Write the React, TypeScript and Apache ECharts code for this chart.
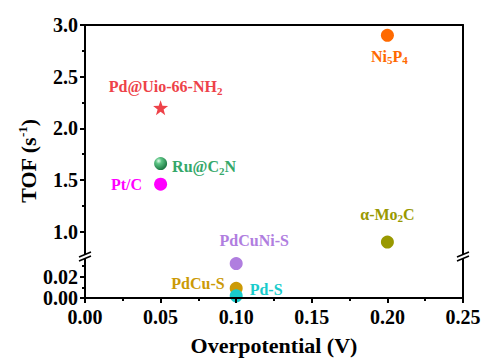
import React, { useEffect, useRef } from "react";
import * as echarts from "echarts";

// ---- data ----
const catalysts = ["Ni5P4", "Pd@Uio-66-NH2", "Ru@C2N", "Pt/C", "α-Mo2C", "PdCuNi-S", "PdCu-S", "Pd-S"];
const overpotential = [0.2, 0.05, 0.05, 0.05, 0.2, 0.1, 0.1, 0.1];
const tof = [2.9, 2.2, 1.66, 1.46, 0.9, 0.032, 0.009, 0.002];
const upperTicks = [1.0, 1.5, 2.0, 2.5, 3.0];
const upperMinor = [1.25, 1.75, 2.25, 2.75];
const lowerTicks = [0, 0.02];
const lowerMinor = [0.01, 0.03];
const breakValue = 0.5; // points at/above go to the upper segment

const FONT = '"Liberation Serif", "Times New Roman", serif';

// five-pointed star marker path
function starPath() {
  const pts: string[] = [];
  for (let k = 0; k < 10; k++) {
    const r = k % 2 === 0 ? 10 : 4;
    const a = -Math.PI / 2 + (k * Math.PI) / 5;
    pts.push(`${(Math.cos(a) * r).toFixed(3)},${(Math.sin(a) * r).toFixed(3)}`);
  }
  return "path://M" + pts.join(" L") + " Z";
}

const sub = (size: number, color: string) => ({
  fontSize: size, fontWeight: "bold", fontFamily: FONT, color, verticalAlign: "bottom", lineHeight: 12, padding: [7, 0, 0, 0],
});
const main = (size: number, color: string) => ({
  fontSize: size, fontWeight: "bold", fontFamily: FONT, color, lineHeight: 19,
});

const styles: any[] = [
  { color: "#FF6A00", symbol: "circle", size: 13, label: { position: "bottom", distance: 5, offset: [2, 0], formatter: "{a|Ni}{s|5}{a|P}{s|4}" } },
  { color: "#EE4249", symbol: starPath(), size: 15, label: { position: "top", distance: 4, offset: [5, 0], formatter: "{a|Pd@Uio-66-NH}{s|2}" } },
  { color: "#34A86A", gradient: true, symbol: "circle", size: 13, label: { position: "right", distance: 5, offset: [0, 3], formatter: "{a|Ru@C}{s|2}{a|N}" } },
  { color: "#FF00FF", symbol: "circle", size: 13, label: { position: "left", distance: 12, formatter: "{a|Pt/C}" } },
  { color: "#999900", symbol: "circle", size: 13, label: { position: "top", distance: 12, formatter: "{a|α-Mo}{s|2}{a|C}" } },
  { color: "#B07EDF", symbol: "circle", size: 13, label: { position: "top", distance: 7, offset: [18, 0], formatter: "{a|PdCuNi-S}" } },
  { color: "#CC9A06", symbol: "circle", size: 13, label: { position: "left", distance: 5, offset: [0, -5], formatter: "{a|PdCu-S}" } },
  { color: "#19CCCC", symbol: "circle", size: 13, label: { position: "right", distance: 7, offset: [0, -6], formatter: "{a|Pd-S}" } },
];

function makeItem(i: number) {
  const s = styles[i];
  const color = s.gradient
    ? new echarts.graphic.RadialGradient(0.35, 0.3, 0.75, [
        { offset: 0, color: "#e6fbec" },
        { offset: 0.3, color: "#5cc484" },
        { offset: 1, color: "#17703d" },
      ])
    : s.color;
  return {
    name: catalysts[i],
    value: [overpotential[i], tof[i]],
    symbol: s.symbol,
    symbolSize: s.size,
    itemStyle: { color, opacity: 1 },
    label: {
      show: true,
      position: s.label.position,
      distance: s.label.distance,
      offset: s.label.offset || [0, 0],
      formatter: s.label.formatter,
      rich: { a: main(16, s.color), s: sub(11, s.color) },
    },
  };
}

const AX = "#000";
const LW = 2;
const labelFont = { fontFamily: FONT, fontWeight: "bold", fontSize: 20, color: "#000" };

function breakMark(x: number, y: number) {
  return [
    {
      type: "polygon", z: 100,
      shape: { points: [[x - 6, y + 1], [x + 6, y - 4], [x + 6, y], [x - 6, y + 5]] },
      style: { fill: "#fff" },
    },
    { type: "line", z: 101, shape: { x1: x - 6, y1: y + 1, x2: x + 6, y2: y - 4 }, style: { stroke: "#000", lineWidth: 1.5 } },
    { type: "line", z: 101, shape: { x1: x - 6, y1: y + 5, x2: x + 6, y2: y }, style: { stroke: "#000", lineWidth: 1.5 } },
  ];
}

export default function App() {
  const ref = useRef<HTMLDivElement>(null);
  useEffect(() => {
    if (!ref.current) return;
    const chart = echarts.init(ref.current, null, { renderer: "svg" });
    const idx = catalysts.map((_, i) => i);
    const upper = idx.filter((i) => tof[i] >= breakValue).map(makeItem);
    const lower = idx.filter((i) => tof[i] < breakValue).map(makeItem);

    const gridLeft = 85, gridRight = 21;
    const option: any = {
      animation: false,
      backgroundColor: "#fff",
      grid: [
        { left: gridLeft, right: gridRight, top: 25, height: 230 },
        { left: gridLeft, right: gridRight, top: 255, height: 43 },
      ],
      xAxis: [
        {
          gridIndex: 0, type: "value", position: "top", min: 0, max: 0.25,
          axisLine: { show: true, onZero: false, lineStyle: { color: AX, width: LW } },
          axisTick: { show: false }, axisLabel: { show: false }, splitLine: { show: false },
        },
        {
          gridIndex: 1, type: "value", position: "bottom", min: 0, max: 0.25, interval: 0.05,
          axisLine: { show: true, onZero: false, lineStyle: { color: AX, width: LW } },
          axisTick: { show: true, inside: false, length: 5, lineStyle: { color: AX, width: LW } },
          minorTick: { show: true, splitNumber: 2, length: 3, lineStyle: { color: AX, width: LW } },
          axisLabel: { ...labelFont, margin: 9, formatter: (v: number) => v.toFixed(2) },
          splitLine: { show: false },
          name: "Overpotential (V)", nameLocation: "middle", nameGap: 36,
          nameTextStyle: { fontFamily: FONT, fontWeight: "bold", fontSize: 22, color: "#000" },
          z: 5,
        },
      ],
      yAxis: [
        {
          gridIndex: 0, type: "value", position: "left", min: 0.775, max: 3.0,
          axisLine: { show: true, onZero: false, lineStyle: { color: AX, width: LW } },
          axisTick: { show: true, length: 5, customValues: upperTicks, lineStyle: { color: AX, width: LW } },
          axisLabel: { ...labelFont, margin: 7, customValues: upperTicks, formatter: (v: number) => v.toFixed(1) },
          splitLine: { show: false },
        },
        {
          gridIndex: 0, type: "value", position: "left", min: 0.775, max: 3.0,
          axisLine: { show: false },
          axisTick: { show: true, length: 3, customValues: upperMinor, lineStyle: { color: AX, width: LW } },
          axisLabel: { show: false }, splitLine: { show: false },
        },
        {
          gridIndex: 0, type: "value", position: "right", min: 0.775, max: 3.0,
          axisLine: { show: true, onZero: false, lineStyle: { color: AX, width: LW } },
          axisTick: { show: false }, axisLabel: { show: false }, splitLine: { show: false },
        },
        {
          gridIndex: 1, type: "value", position: "left", min: 0, max: 0.04,
          axisLine: { show: true, onZero: false, lineStyle: { color: AX, width: LW } },
          axisTick: { show: true, length: 5, customValues: lowerTicks, lineStyle: { color: AX, width: LW } },
          axisLabel: { ...labelFont, margin: 7, customValues: lowerTicks, formatter: (v: number) => v.toFixed(2) },
          splitLine: { show: false },
        },
        {
          gridIndex: 1, type: "value", position: "left", min: 0, max: 0.04,
          axisLine: { show: false },
          axisTick: { show: true, length: 3, customValues: lowerMinor, lineStyle: { color: AX, width: LW } },
          axisLabel: { show: false }, splitLine: { show: false },
        },
        {
          gridIndex: 1, type: "value", position: "right", min: 0, max: 0.04,
          axisLine: { show: true, onZero: false, lineStyle: { color: AX, width: LW } },
          axisTick: { show: false }, axisLabel: { show: false }, splitLine: { show: false },
        },
      ],
      series: [
        { type: "scatter", xAxisIndex: 0, yAxisIndex: 0, data: upper, clip: false, z: 3 },
        { type: "scatter", xAxisIndex: 1, yAxisIndex: 3, data: lower, clip: false, z: 3 },
      ],
      graphic: [
        ...breakMark(85, 256),
        ...breakMark(463, 256),
        {
          type: "text", z: 100, x: 28, y: 161, rotation: Math.PI / 2,
          style: {
            text: "{a|TOF (s}{b|-1}{a|)}",
            align: "center", verticalAlign: "middle",
            rich: {
              a: { fontFamily: FONT, fontWeight: "bold", fontSize: 22, fill: "#000", lineHeight: 24 },
              b: { fontFamily: FONT, fontWeight: "bold", fontSize: 13, fill: "#000", verticalAlign: "top", lineHeight: 24, padding: [0, 0, 8, 0] },
            },
          },
        },
      ],
    };
    chart.setOption(option);
    return () => chart.dispose();
  }, []);
  return <div ref={ref} style={{ position: "fixed", left: 0, top: 0, width: 484, height: 360 }} />;
}
